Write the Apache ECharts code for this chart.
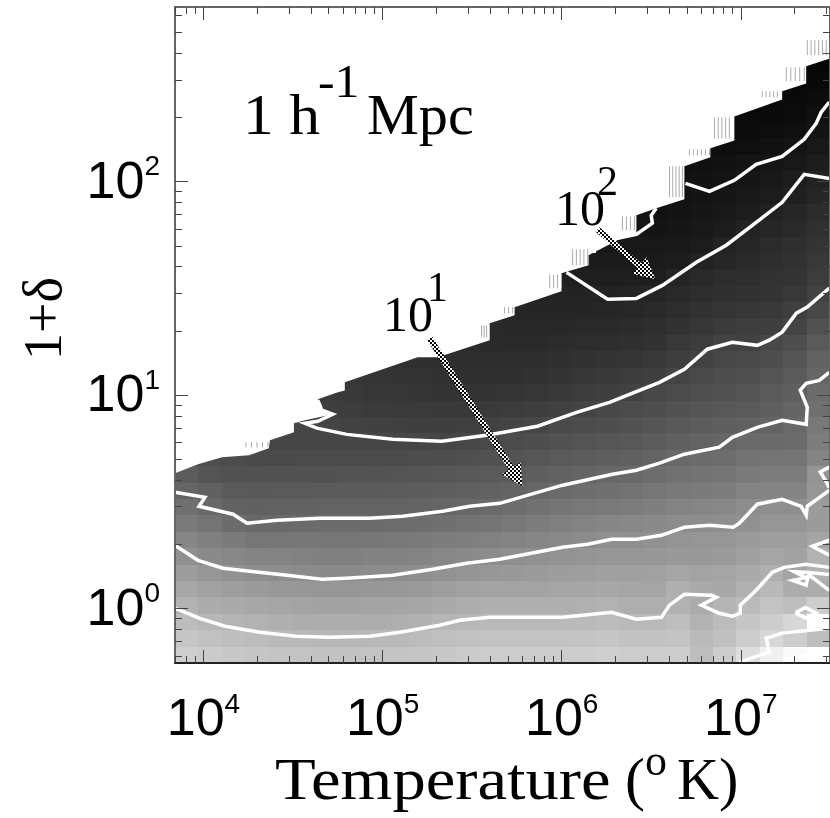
<!DOCTYPE html>
<html><head><meta charset="utf-8">
<style>html,body{margin:0;padding:0;background:#fff}#c{width:830px;height:818px}</style>
<script src="https://cdn.jsdelivr.net/npm/echarts@6/dist/echarts.min.js"></script>
</head><body><div id="c"></div>
<script>
// Axis ranges, log10 units
const logTMin = 3.841, logTMax = 7.498, logDMin = -0.255, logDMax = 2.818;
const xMajor = [1e4, 1e5, 1e6, 1e7];
const yMajor = [1, 10, 100];
const xMinor = [7e3,8e3,9e3,2e4,3e4,4e4,5e4,6e4,7e4,8e4,9e4,2e5,3e5,4e5,5e5,6e5,7e5,8e5,9e5,2e6,3e6,4e6,5e6,6e6,7e6,8e6,9e6,2e7,3e7];
const yMinor = [0.6,0.7,0.8,0.9,2,3,4,5,6,7,8,9,20,30,40,50,60,70,80,90,200,300,400,500,600];
const columnCount = 28, rowCount = 40;
// Gray level of each cell, bottom row first; rows are right-aligned to the last column
const grayRows = [
[206,203,200,198,196,195,194,194,195,196,198,200,203,204,204,204,204,205,207,204,204,205,190,204,222,240,250,255],
[198,193,190,188,185,184,183,183,184,185,188,191,193,195,195,195,195,196,198,194,194,196,186,192,205,215,205,190],
[188,183,180,178,175,173,173,173,173,174,177,181,183,185,185,185,185,186,188,185,185,190,178,188,198,205,215,255],
[178,172,170,167,165,163,162,162,163,164,166,170,173,175,175,175,175,176,178,174,174,178,172,180,186,195,190,205],
[167,161,158,155,152,151,150,150,151,152,154,158,161,163,163,163,165,166,168,165,165,175,170,168,176,185,172,172],
[156,150,146,143,141,139,138,138,140,140,143,146,149,151,153,155,157,158,160,160,161,165,163,165,170,175,165,178],
[144,138,135,132,131,129,128,128,130,130,132,135,138,140,142,144,147,148,150,150,151,153,152,155,160,165,162,178],
[134,128,123,118,118,119,118,118,119,120,122,125,127,129,131,134,137,139,143,143,145,148,150,150,155,158,158,165],
[123,116,108,105,106,107,108,108,108,109,110,112,115,117,120,124,128,131,134,136,138,140,141,143,145,150,150,155],
[112,105,98,97,98,98,99,99,99,100,100,102,104,106,109,113,117,120,122,124,127,131,133,136,141,143,142,155],
[101,97,90,89,90,90,91,91,91,92,93,94,96,98,100,103,107,110,112,114,118,121,123,125,131,132,132,150],
[92,84,82,81,82,82,82,83,83,84,85,86,88,90,92,95,98,101,104,105,109,113,115,117,122,124,124,148],
[80,78,76,74,74,75,75,75,76,76,77,78,80,82,84,86,90,92,94,96,100,105,107,109,115,116,116,132],
[76,74,72,70,70,70,70,70,70,70,70,70,72,74,76,78,82,84,86,88,92,96,99,102,106,106,108,125],
[70,70,68,66,65,64,63,63,64,66,68,70,74,76,78,81,85,89,92,95,96,100,105,120],
[66,64,62,61,59,58,58,57,57,58,60,62,65,68,72,75,78,82,85,88,90,95,100,112],
[63,59,57,55,54,53,52,51,52,53,55,57,60,63,66,71,75,79,82,85,90,95,108],
[55,53,52,51,50,48,47,48,50,52,55,57,60,63,68,73,77,80,84,90,102],
[50,49,48,47,46,45,45,46,48,50,52,53,57,62,66,71,74,78,85,98],
[45,44,42,41,42,44,45,46,48,50,56,60,66,66,72,78,90],
[42,40,40,40,41,42,44,46,50,55,59,62,63,68,82],
[40,38,37,37,37,38,39,41,45,50,53,55,57,63,72],
[35,35,35,35,36,37,41,45,48,50,52,56,66],
[31,30,30,30,30,36,41,45,46,50,52,60],
[27,27,27,27,28,34,38,42,46,50,56],
[24,24,24,25,28,34,38,43,47,52],
[20,20,22,24,28,34,38,42,48],
[18,18,20,22,24,28,33,38,44],
[18,20,22,25,28,32,38],
[16,18,20,22,25,29,34],
[14,16,17,20,21,24,29],
[13,14,15,17,20,24],
[12,12,13,15,20],
[10,10,10,12,16],
[8,9,12],
[6,8],
[6,6]
];
// Contour lines: [log10 T, log10 (1+delta)]
const contourA = [[3.841,0.001],[3.936,-0.031],[3.975,-0.045],[4.120,-0.083],[4.315,-0.111],[4.516,-0.130],[4.705,-0.134],[4.929,-0.130],[5.096,-0.111],[5.319,-0.078],[5.430,-0.055],[5.598,-0.041],[6.005,-0.041],[6.278,-0.017],[6.417,-0.050],[6.557,-0.041],[6.602,0.016],[6.685,0.067],[6.836,0.062],[6.863,0.053],[6.780,0.016],[6.880,-0.022],[6.953,-0.036],[6.997,-0.022],[6.997,0.016],[7.086,0.086],[7.176,0.170],[7.243,0.193],[7.365,0.207],[7.494,0.193]];
const contourB = [[3.841,0.296],[3.969,0.226],[4.109,0.189],[4.259,0.175],[4.466,0.156],[4.661,0.137],[4.800,0.142],[5.057,0.156],[5.280,0.184],[5.469,0.212],[5.654,0.231],[6.005,0.287],[6.145,0.301],[6.278,0.325],[6.417,0.325],[6.557,0.343],[6.685,0.381],[6.825,0.390],[6.958,0.381],[6.992,0.400],[7.092,0.489],[7.231,0.512],[7.337,0.479],[7.365,0.437],[7.371,0.479],[7.494,0.554]];
const contourC = [[3.841,0.545],[4.008,0.521],[3.975,0.479],[4.165,0.442],[4.243,0.400],[4.410,0.414],[4.650,0.423],[4.929,0.423],[5.112,0.432],[5.335,0.456],[5.486,0.479],[5.654,0.493],[6.005,0.578],[6.284,0.629],[6.417,0.648],[6.546,0.681],[6.685,0.723],[6.880,0.756],[6.953,0.802],[7.092,0.849],[7.231,0.882],[7.365,0.863],[7.371,0.943],[7.332,1.023],[7.365,1.055],[7.438,1.069],[7.494,1.107]];
const contourD = [[4.638,0.976],[4.661,0.929],[4.722,0.910],[4.638,0.877],[4.566,0.868],[4.633,0.845],[4.800,0.816],[5.057,0.793],[5.330,0.784],[5.581,0.812],[5.865,0.854],[6.083,0.919],[6.267,0.966],[6.546,1.060],[6.685,1.121],[6.813,1.215],[6.953,1.247],[7.092,1.233],[7.159,1.257],[7.231,1.295],[7.310,1.384],[7.371,1.412],[7.494,1.501]];
const contourE = [[6.027,1.575],[6.256,1.449],[6.417,1.453],[6.562,1.514],[6.752,1.622],[6.919,1.702],[7.086,1.809],[7.231,1.903],[7.354,2.034],[7.494,2.015]];
const contourF = [[6.691,1.992],[6.825,1.954],[6.964,2.006],[7.086,2.081],[7.231,2.118],[7.354,2.198],[7.421,2.273],[7.449,2.325],[7.494,2.372]];
const contourG = [[6.311,1.734],[6.417,1.753],[6.506,1.805],[6.500,1.842],[6.528,1.875]];
const contourH = [[7.494,0.663],[7.444,0.640],[7.477,0.594],[7.494,0.566]];
const contourI = [[7.494,0.320],[7.399,0.292],[7.494,0.250]];
const contourJ = [[7.494,0.160],[7.365,0.170],[7.300,0.172],[7.365,0.145],[7.290,0.132],[7.365,0.110],[7.377,0.160],[7.494,0.085]];
const contourK = [[7.305,-0.020],[7.360,0.005],[7.420,-0.020],[7.365,-0.045],[7.305,-0.020]];
const contourL = [[6.992,-0.251],[7.159,-0.204],[7.142,-0.139],[7.231,-0.115],[7.494,-0.092]];
const contourM = [[7.243,-0.241],[7.494,-0.195]];
const contours = [contourA, contourB, contourC, contourD, contourE, contourF, contourG, contourH, contourI, contourJ, contourK, contourL, contourM];
// Upper edge of the populated region
const edge = [[3.841,0.634],[3.969,0.676],[4.103,0.709],[4.254,0.718],[4.365,0.751],[4.371,0.788],[4.505,0.826],[4.505,0.868],[4.566,0.882],[4.722,0.910],[4.661,0.929],[4.638,0.980],[4.750,1.013],[4.789,1.022],[4.789,1.060],[5.196,1.177],[5.308,1.177],[5.598,1.257],[5.598,1.336],[5.737,1.374],[5.737,1.412],[5.999,1.486],[5.999,1.571],[6.150,1.608],[6.150,1.655],[6.311,1.725],[6.417,1.758],[6.417,1.842],[6.528,1.875],[6.685,1.917],[6.685,2.072],[6.830,2.114],[6.830,2.156],[6.964,2.193],[6.964,2.305],[7.231,2.385],[7.231,2.423],[7.365,2.460],[7.365,2.540],[7.498,2.577],[7.498,2.818],[3.841,2.818]];
// Stray hatch marks: logT low, logT high, logD low, logD high, strokes
const hatches = [[5.933,5.999,1.500,1.565,4],[6.061,6.145,1.608,1.683,5],[6.339,6.406,1.772,1.837,4],[6.602,6.674,1.927,2.072,5],[6.713,6.825,2.123,2.151,6],[6.853,6.936,2.202,2.301,5],[7.120,7.204,2.395,2.423,5],[7.254,7.354,2.470,2.536,5],[7.371,7.477,2.592,2.663,6],[5.681,5.726,1.383,1.412,3],[5.553,5.581,1.271,1.327,3],[4.237,4.360,0.755,0.779,5]];
// Arrows: start logT, start logD, tip logT, tip logD
const arrows = [[5.263,1.266,5.781,0.573],[6.200,1.776,6.523,1.543]];

const p10 = v => Math.pow(10, v);
const xLo = p10(logTMin), xHi = p10(logTMax), yLo = p10(logDMin), yHi = p10(logDMax);
const colStep = (logTMax - logTMin) / columnCount, rowStep = (logDMax - logDMin) / rowCount;
const cells = [];
grayRows.forEach((row, r) => {
  const first = columnCount - row.length;
  row.forEach((g, i) => {
    const c = first + i;
    cells.push([p10(logTMin + c * colStep), p10(logTMin + (c + 1) * colStep), p10(logDMin + r * rowStep), p10(logDMin + (r + 1) * rowStep), g]);
  });
});
const chk = document.createElement('canvas');
chk.width = chk.height = 4;
(function () {
  const x = chk.getContext('2d');
  x.fillStyle = '#fff'; x.fillRect(0, 0, 4, 4);
  x.fillStyle = '#000'; x.fillRect(0, 0, 2, 2); x.fillRect(2, 2, 2, 2);
})();
const sans = '"Liberation Sans"', serif = '"Liberation Serif"';
const mkX = (pos, custom, len, line, labels) => ({
  type: 'log', logBase: 10, position: pos, min: xLo, max: xHi, z: 20, splitLine: { show: false },
  axisLine: { show: line, onZero: false, lineStyle: { color: pos === 'bottom' ? '#222' : '#666', width: 2 } },
  axisTick: { show: true, inside: true, length: len, customValues: custom, lineStyle: { color: '#444', width: 1 } },
  axisLabel: labels ? { show: true, customValues: custom, margin: 28, formatter: v => '{b|10}{s|' + Math.round(Math.log10(v)) + '}',
    rich: { b: { fontFamily: sans, fontSize: 52, lineHeight: 56, verticalAlign: 'bottom', color: '#000' }, s: { fontFamily: sans, fontSize: 28, lineHeight: 30, verticalAlign: 'top', color: '#000' } } } : { show: false }
});
const mkY = (pos, custom, len, line, labels) => ({
  type: 'log', logBase: 10, position: pos, min: yLo, max: yHi, z: 20, splitLine: { show: false },
  axisLine: { show: line, onZero: false, lineStyle: { color: '#666', width: 2 } },
  axisTick: { show: true, inside: true, length: len, customValues: custom, lineStyle: { color: '#444', width: 1 } },
  axisLabel: labels ? { show: true, customValues: custom, margin: 15, formatter: v => '{b|10}{s|' + Math.round(Math.log10(v)) + '}',
    rich: { b: { fontFamily: sans, fontSize: 52, lineHeight: 56, verticalAlign: 'bottom', color: '#000' }, s: { fontFamily: sans, fontSize: 28, lineHeight: 30, verticalAlign: 'top', color: '#000' } } } : { show: false }
});
const txt = (text, x, y, size, scaleX, extra) => Object.assign({ type: 'text', x, y, z: 60, scaleX: scaleX || 1,
  style: { text, fontFamily: serif, fontSize: size, fill: '#000', verticalAlign: 'bottom' } }, extra || {});

const option = {
  animation: false,
  backgroundColor: '#fff',
  grid: { left: 175, top: 7, width: 656, height: 656 },
  xAxis: [mkX('bottom', xMajor, 13, true, true), mkX('bottom', xMinor, 7, false, false), mkX('top', xMajor, 13, true, false), mkX('top', xMinor, 7, false, false)],
  yAxis: [mkY('left', yMajor, 13, true, true), mkY('left', yMinor, 7, false, false), mkY('right', yMajor, 13, true, false), mkY('right', yMinor, 7, false, false)],
  series: [
    { type: 'custom', name: 'cells', coordinateSystem: 'cartesian2d', xAxisIndex: 0, yAxisIndex: 0, z: 1, silent: true, data: cells,
      encode: { x: [0, 1], y: [2, 3] },
      renderItem: (params, api) => {
        const a = api.coord([api.value(0), api.value(2)]), b = api.coord([api.value(1), api.value(3)]);
        const g = api.value(4), col = 'rgb(' + g + ',' + g + ',' + g + ')';
        const x0 = Math.round(a[0]), x1 = Math.round(b[0]), y0 = Math.round(b[1]), y1 = Math.round(a[1]);
        return { type: 'rect', shape: { x: x0, y: y0, width: x1 - x0, height: y1 - y0 }, style: { fill: col } };
      } },
    { type: 'custom', name: 'edge', coordinateSystem: 'cartesian2d', xAxisIndex: 0, yAxisIndex: 0, z: 2, silent: true, data: [0],
      renderItem: (params, api) => ({ type: 'polygon', shape: { points: edge.map(p => api.coord([p10(p[0]), p10(p[1])])) }, style: { fill: '#fff' } }) },
    { type: 'custom', name: 'hatch', coordinateSystem: 'cartesian2d', xAxisIndex: 0, yAxisIndex: 0, z: 3, silent: true, data: hatches,
      renderItem: (params, api) => {
        const h = hatches[params.dataIndex], kids = [];
        for (let i = 0; i < h[4]; i++) {
          const t = h[0] + (h[1] - h[0]) * i / Math.max(1, h[4] - 1);
          const a = api.coord([p10(t), p10(h[2])]), b = api.coord([p10(t), p10(h[3])]);
          kids.push({ type: 'line', shape: { x1: a[0], y1: a[1], x2: b[0], y2: b[1] }, style: { stroke: '#aaa', lineWidth: 1 } });
        }
        return { type: 'group', children: kids };
      } }
  ].concat(contours.map((c, i) => ({
    type: 'line', name: 'contour' + i, xAxisIndex: 0, yAxisIndex: 0, z: 4, showSymbol: false, silent: true, clip: true,
    data: c.map(p => [p10(p[0]), p10(p[1])]), lineStyle: { color: '#fff', width: 3.5, join: 'miter' }
  }))).concat([
    { type: 'custom', name: 'arrows', coordinateSystem: 'cartesian2d', xAxisIndex: 0, yAxisIndex: 0, z: 5, silent: true, data: arrows,
      renderItem: (params, api) => {
        const v = arrows[params.dataIndex];
        const s = api.coord([p10(v[0]), p10(v[1])]), e = api.coord([p10(v[2]), p10(v[3])]);
        const L = Math.hypot(e[0] - s[0], e[1] - s[1]), ux = (e[0] - s[0]) / L, uy = (e[1] - s[1]) / L, nx = -uy, ny = ux;
        const hw = 3, hd = 21, bw = 11, bx = e[0] - ux * hd, by = e[1] - uy * hd;
        const pts = [[s[0] + nx * hw, s[1] + ny * hw], [bx + nx * hw, by + ny * hw], [bx + nx * bw, by + ny * bw], [e[0], e[1]], [bx - nx * bw, by - ny * bw], [bx - nx * hw, by - ny * hw], [s[0] - nx * hw, s[1] - ny * hw]];
        return { type: 'polygon', shape: { points: pts }, style: { fill: { image: chk, repeat: 'repeat' } } };
      } }
  ]),
  graphic: { elements: [
    txt('1 h', 243, 147, 56, 1.1), txt('-1', 318, 108, 46, 1.08), txt('Mpc', 367, 147, 56, 1.04),
    txt('10', 383, 343, 50, 1.0), txt('1', 427, 311, 42, 1),
    txt('10', 555, 237, 50, 1.0), txt('2', 597, 205, 42, 1),
    txt('Temperature', 275, 813, 60, 1.11), txt('(', 625, 813, 60, 1), txt('o', 645, 785, 44, 1), txt('K)', 677, 813, 60, 0.97),
    txt('1+\u03b4', 74, 360, 54, 1, { rotation: Math.PI / 2, style: { text: '1+\u03b4', fontFamily: serif, fontSize: 54, fill: '#000', verticalAlign: 'bottom' } })
  ] }
};
const chart = echarts.init(document.getElementById('c'), null, { renderer: 'canvas' });
chart.setOption(option);
</script></body></html>
